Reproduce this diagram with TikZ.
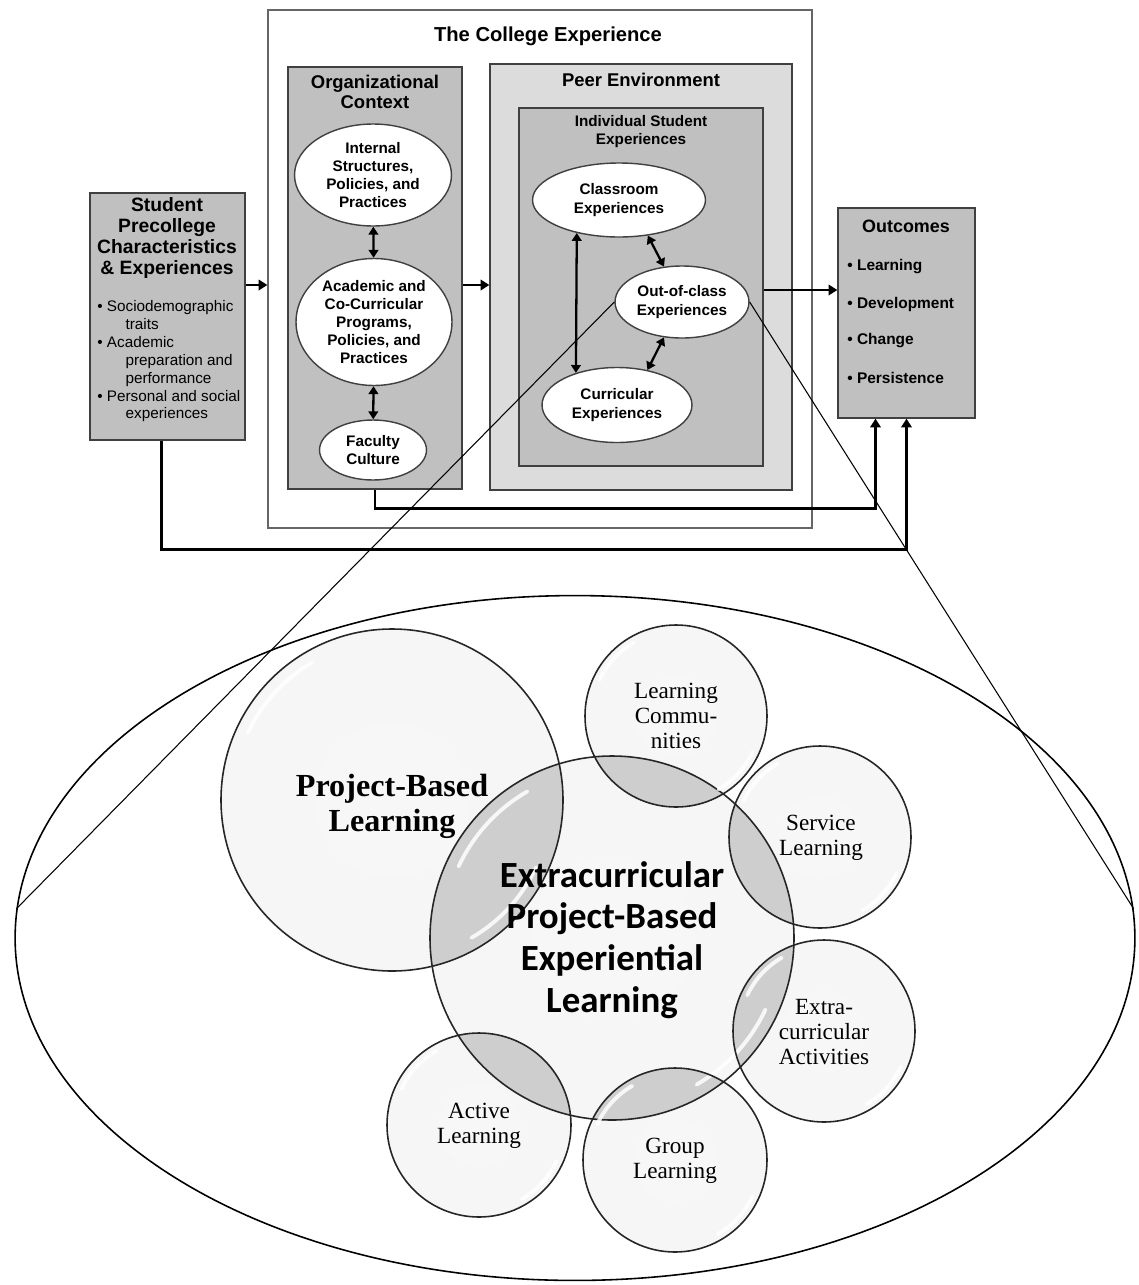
\documentclass[tikz,border=0pt]{standalone}
\usepackage{fontspec}
\setmainfont{Liberation Sans}
\newfontfamily\tnrfont{Liberation Serif}
\newfontfamily\calfont{Carlito}
\usetikzlibrary{arrows.meta, calc, shapes.geometric}

\definecolor{boxgray}{HTML}{C0C0C0}
\definecolor{peergray}{HTML}{DCDCDC}
\definecolor{edgegray}{HTML}{404040}

% glassy bubbles and their overlaps
\pgfdeclareradialshading{bubble}{\pgfpoint{0bp}{0bp}}{%
  color(0bp)=(gray!6); color(34bp)=(gray!8); color(43bp)=(gray!20);
  color(48bp)=(gray!45); color(50bp)=(gray!55)}
\pgfdeclareradialshading{overlap}{\pgfpoint{0bp}{0bp}}{%
  color(0bp)=(gray!42); color(34bp)=(gray!44); color(43bp)=(gray!55);
  color(48bp)=(gray!70); color(50bp)=(gray!75)}

\begin{document}
\begin{tikzpicture}[x=0.02cm, y=-0.02cm,
  box/.style={draw=edgegray, line width=0.8pt, fill=boxgray, inner sep=0pt},
  oval/.style={ellipse, draw=edgegray, line width=0.8pt, fill=white, inner sep=0pt,
    font=\bfseries\fontsize{8.7}{10.3}\selectfont, align=center},
  head/.style={font=\bfseries\fontsize{10.5}{11.5}\selectfont, align=center},
  arr/.style={line width=1.6pt, -{Triangle[length=5pt, width=6pt]}},
  dbl/.style={line width=1.3pt, {Triangle[length=4.5pt, width=5.5pt]}-{Triangle[length=4.5pt, width=5.5pt]}},
  zoomline/.style={line width=0.6pt},
  bubtext/.style={font=\tnrfont\fontsize{13.2}{14.4}\selectfont, align=center}]
  \useasboundingbox (0,0) rectangle (1139,1285);

  % the college experience
  \node[draw=gray!80!black, line width=0.8pt, fill=white, minimum width=10.88cm, minimum height=10.36cm] (college) at (540,269) {};
  \node[font=\bfseries\fontsize{11.5}{13}\selectfont] (collegetitle) at (548,36) {The College Experience};

  \node[box, minimum width=3.48cm, minimum height=8.44cm] (org) at (375,278) {};
  \node[head] (orgtitle) at (375,92) {Organizational\\Context};
  \node[oval, minimum width=3.14cm, minimum height=2.04cm] (internal) at (373,175) {Internal\\Structures,\\Policies, and\\Practices};
  \node[oval, minimum width=3.12cm, minimum height=2.54cm] (academic) at (374,322) {Academic and\\Co-Curricular\\Programs,\\Policies, and\\Practices};
  \node[oval, minimum width=2.14cm, minimum height=1.2cm] (faculty) at (373,450) {Faculty\\Culture};

  \node[box, fill=peergray, minimum width=6.04cm, minimum height=8.52cm] (peer) at (641,277) {};
  \node[head] (peertitle) at (641,80) {Peer Environment};
  \node[box, minimum width=4.88cm, minimum height=7.16cm] (indiv) at (641,287) {};
  \node[font=\bfseries\fontsize{8.7}{10.2}\selectfont, align=center] (indivtitle) at (641,132) {Individual Student\\Experiences};
  \node[oval, minimum width=3.46cm, minimum height=1.48cm] (classroom) at (619,200) {Classroom\\Experiences};
  \node[oval, minimum width=2.68cm, minimum height=1.44cm] (outclass) at (682,302) {Out-of-class\\Experiences};
  \node[oval, minimum width=3.0cm, minimum height=1.5cm] (curricular) at (617,405) {Curricular\\Experiences};

  % inputs and outcomes
  \node[box, minimum width=3.1cm, minimum height=4.94cm] (student) at (167.5,316.5) {};
  \node[font=\bfseries\fontsize{11}{12}\selectfont, align=center] (studtitle) at (167,238) {Student\\Precollege\\Characteristics\\\& Experiences};
  \node[font=\fontsize{8.7}{10.2}\selectfont, align=left, anchor=north west, inner sep=0pt] (studlist) at (97,300)
    {\textbullet\ Sociodemographic\\\hspace*{1.85em}traits\\\textbullet\ Academic\\\hspace*{1.85em}preparation and\\\hspace*{1.85em}performance\\\textbullet\ Personal and social\\\hspace*{1.85em}experiences};

  \node[box, minimum width=2.74cm, minimum height=4.2cm] (outcomes) at (906.5,313) {};
  \node[font=\bfseries\fontsize{10.2}{12}\selectfont] (outtitle) at (906,226) {Outcomes};
  \foreach \res [count=\i] in {Learning, Development, Change, Persistence}
    \node[font=\bfseries\fontsize{8.8}{10}\selectfont, anchor=west, inner sep=0pt] (out\i) at (847,230+37*\i) {\textbullet\ \res};

  \draw[arr] (student.east |- 0,285) -- (college.west |- 0,285);
  \draw[arr] (org.east |- 0,285) -- (peer.west |- 0,285);
  \draw[arr] (indiv.east |- 0,290) -- (outcomes.west |- 0,290);
  \draw[dbl] (internal) -- (academic);
  \draw[dbl] (academic) -- (faculty);
  \draw[dbl] (classroom.218) -- (curricular.142);
  \draw[dbl] (classroom.309) -- (outclass.117);
  \draw[dbl] (outclass.243) -- (curricular.49);
  \draw[arr] (org.south) |- ($(outcomes.south)+(-31,90)$) -- ($(outcomes.south)+(-31,0)$);
  \draw[arr] ($(student.south)+(-6,0)$) |- ($(outcomes.south)+(0,131)$) -- (outcomes.south);

  % close-up of out-of-class experiences
  \node[ellipse, draw, line width=0.9pt, fill=white, minimum width=22.4cm, minimum height=13.7cm, inner sep=0pt] (lens) at (575,938) {};

  \foreach \nm/\cx/\cy/\r in {pbl/392/800/171, core/612/938/182, lc/676/716/91, sl/820/837/91,
      ea/824/1031/91, gl/675/1160/92, al/479/1125/92} {
    \coordinate (\nm) at (\cx,\cy);
    \shade[shading=bubble] (\nm) circle[radius=\r];
  }
  \foreach \a/\ra/\b/\rb in {core/182/pbl/171, core/182/lc/91, core/182/sl/91,
      core/182/ea/91, core/182/gl/92, core/182/al/92} {
    \begin{scope}
      \clip (\a) circle[radius=\ra];
      \shade[shading=overlap, opacity=0.85] (\b) circle[radius=\rb];
    \end{scope}
  }
  \foreach \nm/\r in {pbl/171, core/182, lc/91, sl/91, ea/91, gl/92, al/92} {
    \draw[white, line width=2.2pt, line cap=round, opacity=0.85]
      (\nm) ++(205:0.93*\r) arc[start angle=205, end angle=240, radius=0.93*\r];
    \draw[white, line width=2.2pt, line cap=round, opacity=0.85]
      (\nm) ++(25:0.93*\r) arc[start angle=25, end angle=60, radius=0.93*\r];
    \draw[line width=0.9pt, black!85] (\nm) circle[radius=\r];
  }

  \node[font=\tnrfont\bfseries\fontsize{18.3}{20}\selectfont, align=center] (pbltext) at (392,806) {Project-Based\\Learning};
  \node[font=\calfont\bfseries\fontsize{21}{23.8}\selectfont, align=center] (coretext) at (612,940) {Extracurricular\\Project-Based\\Experiential\\Learning};
  \node[bubtext] (lctext) at (676,716) {Learning\\Commu-\\nities};
  \node[bubtext] (sltext) at (821,838) {Service\\Learning};
  \node[bubtext] (eatext) at (824,1032) {Extra-\\curricular\\Activities};
  \node[bubtext] (altext) at (479,1126) {Active\\Learning};
  \node[bubtext] (gltext) at (675,1161) {Group\\Learning};

  \draw[zoomline] (outclass.west) -- (lens.177);
  \draw[zoomline] (outclass.east) -- (lens.3);
\end{tikzpicture}
\end{document}
